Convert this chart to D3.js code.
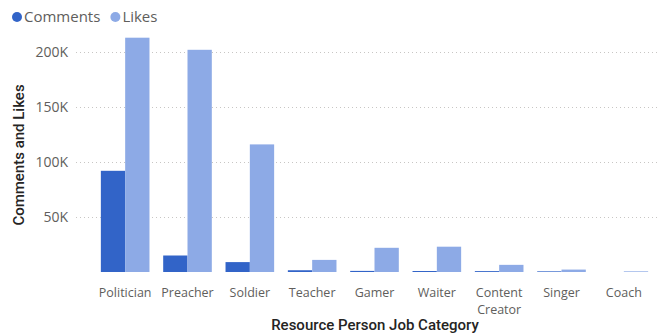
<!DOCTYPE html>
<html>
<head>
<meta charset="utf-8">
<script src="https://cdn.jsdelivr.net/npm/d3@7"></script>
<style>
  html, body { margin: 0; padding: 0; background: #fff; }
  svg { display: block; }
</style>
</head>
<body>
<svg id="chart" width="659" height="336"></svg>
<script>
// Job categories and engagement totals per category
const categories = ["Politician", "Preacher", "Soldier", "Teacher", "Gamer", "Waiter", "Content Creator", "Singer", "Coach"];
const comments = [92000, 15000, 9000, 1600, 1000, 900, 800, 600, 0];
const likes = [213000, 202000, 116000, 11000, 22000, 23000, 6500, 2200, 600];
const seriesNames = ["Comments", "Likes"];
const yTicks = [50000, 100000, 150000, 200000];

const colors = { Comments: "#3264C8", Likes: "#8DAAE6" };

const svg = d3.select("#chart");
const plotBottom = 272;

const x0 = d3.scaleBand()
  .domain(categories)
  .range([94, 655])
  .paddingInner(0.22)
  .paddingOuter(0.11);

const x1 = d3.scaleBand()
  .domain(seriesNames)
  .range([0, x0.bandwidth()])
  .padding(0);

const y = d3.scaleLinear()
  .domain([0, 200000])
  .range([plotBottom, 52]);

// Gridlines
svg.append("g")
  .selectAll("line")
  .data(yTicks)
  .join("line")
  .attr("x1", 76)
  .attr("x2", 659)
  .attr("y1", d => Math.round(y(d)) + 0.5)
  .attr("y2", d => Math.round(y(d)) + 0.5)
  .attr("stroke", "#C8C6C4")
  .attr("stroke-width", 1)
  .attr("stroke-dasharray", "1,3");

// Y axis tick labels
const yAxis = d3.axisLeft(y)
  .tickValues(yTicks)
  .tickSize(0)
  .tickPadding(0)
  .tickFormat(d => (d / 1000) + "K");

svg.append("g")
  .attr("transform", "translate(68,0)")
  .call(yAxis)
  .call(g => g.select(".domain").remove())
  .call(g => g.selectAll("text")
    .attr("fill", "#605E5C")
    .attr("font-family", "'Open Sans', 'Segoe UI', sans-serif")
    .attr("font-size", 14)
    .attr("dy", "0.35em"));

// Bars
const data = categories.map((c, i) => ({ category: c, values: [
  { key: "Comments", value: comments[i] },
  { key: "Likes", value: likes[i] }
]}));

const groups = svg.append("g")
  .selectAll("g")
  .data(data)
  .join("g")
  .attr("transform", d => `translate(${x0(d.category)},0)`);

groups.selectAll("rect")
  .data(d => d.values)
  .join("rect")
  .attr("x", d => x1(d.key))
  .attr("width", x1.bandwidth())
  .attr("y", d => y(d.value))
  .attr("height", d => plotBottom - y(d.value))
  .attr("fill", d => colors[d.key]);

// X axis labels (wrapped)
const xAxis = d3.axisBottom(x0).tickSize(0).tickPadding(0);
svg.append("g")
  .attr("transform", `translate(0,${plotBottom})`)
  .call(xAxis)
  .call(g => g.select(".domain").remove())
  .call(g => g.selectAll("text").each(function(d) {
    const t = d3.select(this);
    t.text(null)
      .attr("fill", "#605E5C")
      .attr("font-family", "'Open Sans', 'Segoe UI', sans-serif")
      .attr("font-size", 12.5)
      .attr("y", 0)
      .attr("dy", null);
    const words = d === "Content Creator" ? ["Content", "Creator"] : [d];
    words.forEach((w, i) => {
      t.append("tspan")
        .attr("x", 0)
        .attr("y", 25 + i * 17)
        .text(w);
    });
  }));

// Axis titles
svg.append("text")
  .attr("x", 375)
  .attr("y", 330)
  .attr("text-anchor", "middle")
  .attr("fill", "#252423")
  .attr("font-family", "Roboto, 'DejaVu Sans', sans-serif")
  .attr("font-weight", 500)
  .attr("font-size", 15)
  .text("Resource Person Job Category");

svg.append("text")
  .attr("transform", "translate(24,155) rotate(-90)")
  .attr("text-anchor", "middle")
  .attr("fill", "#252423")
  .attr("font-family", "Roboto, 'DejaVu Sans', sans-serif")
  .attr("font-weight", 500)
  .attr("font-size", 15)
  .text("Comments and Likes");

// Legend
const legend = svg.append("g").attr("transform", "translate(0,17)");
let lx = 12;
seriesNames.forEach(name => {
  legend.append("circle")
    .attr("cx", lx + 5)
    .attr("cy", 0)
    .attr("r", 5)
    .attr("fill", colors[name]);
  const txt = legend.append("text")
    .attr("x", lx + 12)
    .attr("y", 0)
    .attr("dy", "0.35em")
    .attr("fill", "#605E5C")
    .attr("font-family", "'Open Sans', 'Segoe UI', sans-serif")
    .attr("font-size", 15)
    .text(name);
  lx += 12 + txt.node().getComputedTextLength() + 10;
});
</script>
</body>
</html>
